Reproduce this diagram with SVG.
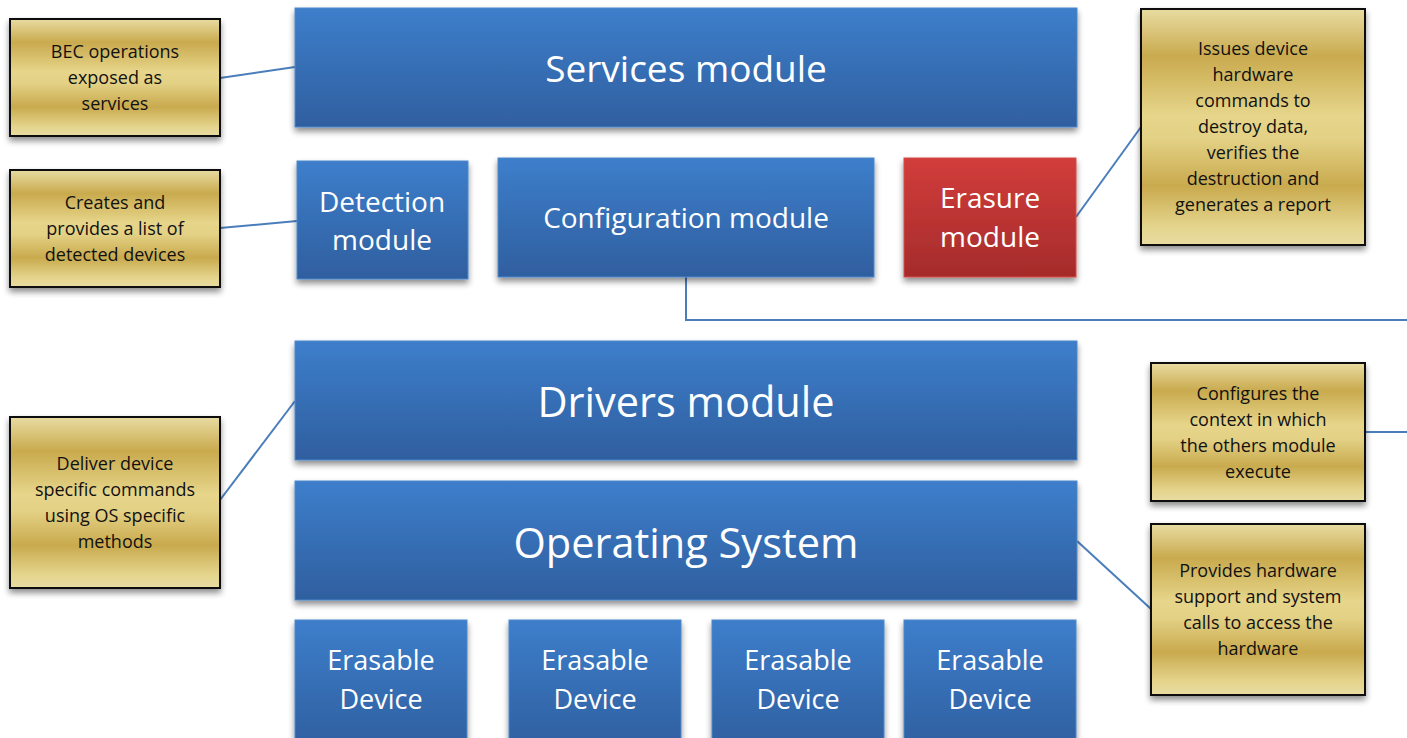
<svg xmlns="http://www.w3.org/2000/svg" width="1407" height="738" viewBox="0 0 1407 738">
<defs>
<linearGradient id="blue" x1="0" y1="0" x2="0" y2="1">
<stop offset="0" stop-color="#3d7ecb"/>
<stop offset="1" stop-color="#2f5f9f"/>
</linearGradient>
<linearGradient id="red" x1="0" y1="0" x2="0" y2="1">
<stop offset="0" stop-color="#d23d3b"/>
<stop offset="1" stop-color="#a52b2b"/>
</linearGradient>
<linearGradient id="gold" x1="0" y1="0" x2="0" y2="1">
<stop offset="0" stop-color="#e8dca2"/>
<stop offset="0.2" stop-color="#c9aa4e"/>
<stop offset="0.45" stop-color="#e6d58a"/>
<stop offset="0.55" stop-color="#e3d185"/>
<stop offset="0.75" stop-color="#c9aa4e"/>
<stop offset="0.92" stop-color="#e4d48c"/>
<stop offset="1" stop-color="#e8dca2"/>
</linearGradient>
<filter id="sh" x="-10%" y="-10%" width="120%" height="130%">
<feGaussianBlur in="SourceAlpha" stdDeviation="3"/>
<feOffset dx="0" dy="4" result="b"/>
<feComponentTransfer><feFuncA type="linear" slope="0.45"/></feComponentTransfer>
<feMerge><feMergeNode/><feMergeNode in="SourceGraphic"/></feMerge>
</filter>
</defs>
<style>
.mod{fill:url(#blue);stroke:#4c88cc;stroke-width:1;filter:url(#sh)}
.era{fill:url(#red);stroke:#d64a48;stroke-width:1;filter:url(#sh)}
.note{fill:url(#gold);stroke:#111;stroke-width:2;filter:url(#sh)}
.mt{font-family:"Open Sans","Liberation Sans",sans-serif;fill:#fff;text-anchor:middle}
.nt{font-family:"Open Sans","Liberation Sans",sans-serif;fill:#111;text-anchor:middle;font-size:18px}
.con{fill:none;stroke:#4a7ebb;stroke-width:2}
</style>
<rect width="1407" height="738" fill="#fff"/>

<g id="connectors">
<line class="con" x1="220" y1="78" x2="295" y2="67"/>
<line class="con" x1="220" y1="228" x2="297" y2="221"/>
<line class="con" x1="220" y1="500" x2="295" y2="401"/>
<line class="con" x1="1076" y1="217" x2="1141" y2="127"/>
<line class="con" x1="1077" y1="541" x2="1151" y2="609"/>
<polyline class="con" points="686,277 686,320 1407,320"/>
<line class="con" x1="1365" y1="432" x2="1407" y2="432"/>
</g>

<g id="services">
<rect class="mod" x="295" y="8" width="782" height="119"/>
<text class="mt" x="686" y="82" font-size="37">Services module</text>
</g>
<g id="detection">
<rect class="mod" x="297" y="161" width="171" height="118"/>
<text class="mt" x="382" y="212" font-size="28">Detection</text>
<text class="mt" x="382" y="250" font-size="28">module</text>
</g>
<g id="configuration">
<rect class="mod" x="498" y="158" width="376" height="119"/>
<text class="mt" x="686" y="228" font-size="28">Configuration module</text>
</g>
<g id="erasure">
<rect class="era" x="904" y="158" width="172" height="119"/>
<text class="mt" x="990" y="208" font-size="28">Erasure</text>
<text class="mt" x="990" y="247" font-size="28">module</text>
</g>
<g id="drivers">
<rect class="mod" x="295" y="341" width="782" height="119"/>
<text class="mt" x="686" y="417" font-size="41.5">Drivers module</text>
</g>
<g id="os">
<rect class="mod" x="295" y="481" width="782" height="119"/>
<text class="mt" x="686" y="558" font-size="41.5">Operating System</text>
</g>
<g id="device1">
<rect class="mod" x="295" y="620" width="172" height="130"/>
<text class="mt" x="381" y="670" font-size="27">Erasable</text>
<text class="mt" x="381" y="709" font-size="27">Device</text>
</g>
<g id="device2">
<rect class="mod" x="509" y="620" width="172" height="130"/>
<text class="mt" x="595" y="670" font-size="27">Erasable</text>
<text class="mt" x="595" y="709" font-size="27">Device</text>
</g>
<g id="device3">
<rect class="mod" x="712" y="620" width="172" height="130"/>
<text class="mt" x="798" y="670" font-size="27">Erasable</text>
<text class="mt" x="798" y="709" font-size="27">Device</text>
</g>
<g id="device4">
<rect class="mod" x="904" y="620" width="172" height="130"/>
<text class="mt" x="990" y="670" font-size="27">Erasable</text>
<text class="mt" x="990" y="709" font-size="27">Device</text>
</g>

<g id="note-bec">
<rect class="note" x="10" y="19" width="210" height="117"/>
<text class="nt" x="115" y="58">BEC operations</text>
<text class="nt" x="115" y="84">exposed as</text>
<text class="nt" x="115" y="110">services</text>
</g>
<g id="note-detect">
<rect class="note" x="10" y="170" width="210" height="117"/>
<text class="nt" x="115" y="209">Creates and</text>
<text class="nt" x="115" y="235">provides a list of</text>
<text class="nt" x="115" y="261">detected devices</text>
</g>
<g id="note-drivers">
<rect class="note" x="10" y="417" width="210" height="171"/>
<text class="nt" x="115" y="470">Deliver device</text>
<text class="nt" x="115" y="496">specific commands</text>
<text class="nt" x="115" y="522">using OS specific</text>
<text class="nt" x="115" y="548">methods</text>
</g>
<g id="note-erasure">
<rect class="note" x="1141" y="9" width="224" height="236"/>
<text class="nt" x="1253" y="55">Issues device</text>
<text class="nt" x="1253" y="81">hardware</text>
<text class="nt" x="1253" y="107">commands to</text>
<text class="nt" x="1253" y="133">destroy data,</text>
<text class="nt" x="1253" y="159">verifies the</text>
<text class="nt" x="1253" y="185">destruction and</text>
<text class="nt" x="1253" y="211">generates a report</text>
</g>
<g id="note-config">
<rect class="note" x="1151" y="363" width="214" height="138"/>
<text class="nt" x="1258" y="400">Configures the</text>
<text class="nt" x="1258" y="426">context in which</text>
<text class="nt" x="1258" y="452">the others module</text>
<text class="nt" x="1258" y="478">execute</text>
</g>
<g id="note-os">
<rect class="note" x="1151" y="524" width="214" height="171"/>
<text class="nt" x="1258" y="577">Provides hardware</text>
<text class="nt" x="1258" y="603">support and system</text>
<text class="nt" x="1258" y="629">calls to access the</text>
<text class="nt" x="1258" y="655">hardware</text>
</g>
</svg>
